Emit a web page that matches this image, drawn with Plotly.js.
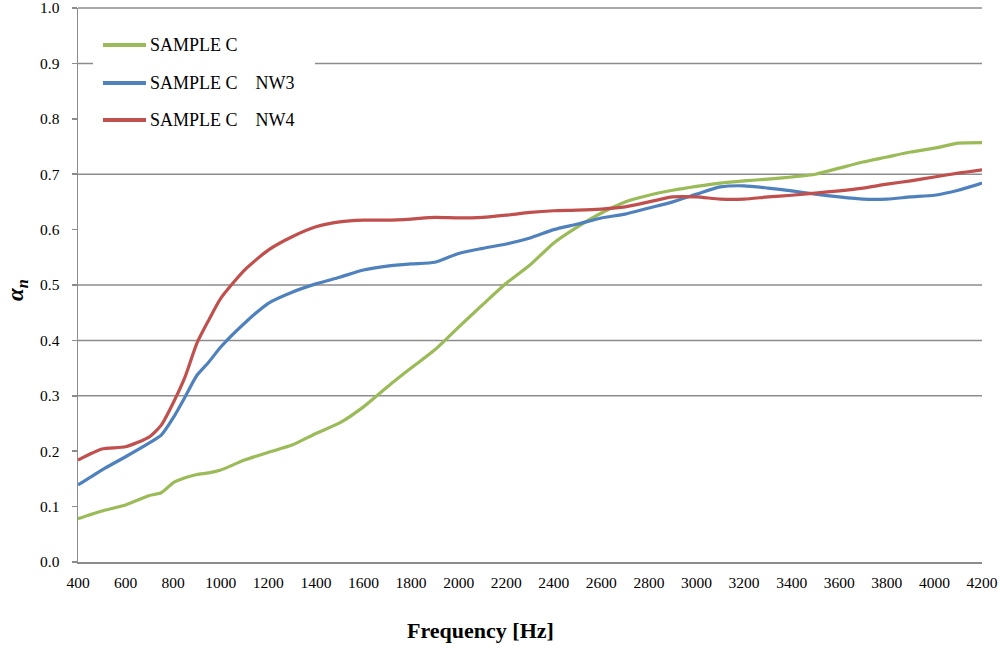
<!DOCTYPE html>
<html>
<head>
<meta charset="utf-8">
<script src="https://cdn.plot.ly/plotly-3.0.1.min.js"></script>
<style>html,body{margin:0;padding:0;background:#fff;}#chart{width:1000px;height:671px;}</style>
</head>
<body>
<div id="chart"></div>
<script>
// Frequency [Hz]
var freq = [400,500,600,700,750,800,850,900,950,1000,1100,1200,1300,1400,1500,1600,1700,1800,1900,2000,2100,2200,2300,2400,2500,2600,2700,2800,2900,3000,3100,3200,3300,3400,3500,3600,3700,3800,3900,4000,4100,4200];
var sampleC = [0.078,0.092,0.103,0.120,0.125,0.143,0.152,0.158,0.161,0.166,0.184,0.198,0.211,0.232,0.251,0.280,0.316,0.350,0.383,0.424,0.464,0.503,0.536,0.576,0.605,0.630,0.650,0.662,0.671,0.678,0.684,0.688,0.691,0.695,0.700,0.711,0.722,0.731,0.740,0.747,0.756,0.757];
var sampleCNW3 = [0.139,0.166,0.190,0.215,0.229,0.260,0.298,0.337,0.361,0.388,0.431,0.467,0.487,0.502,0.514,0.527,0.534,0.538,0.541,0.557,0.566,0.574,0.585,0.600,0.610,0.621,0.628,0.639,0.650,0.664,0.677,0.679,0.675,0.670,0.664,0.659,0.655,0.655,0.659,0.662,0.671,0.684];
var sampleCNW4 = [0.184,0.204,0.208,0.226,0.247,0.287,0.334,0.395,0.437,0.476,0.527,0.563,0.587,0.605,0.614,0.617,0.617,0.619,0.622,0.621,0.622,0.626,0.631,0.634,0.635,0.637,0.641,0.650,0.659,0.659,0.655,0.655,0.659,0.662,0.666,0.670,0.675,0.682,0.688,0.695,0.702,0.708];
var seriesNames = ["SAMPLE C", "SAMPLE C\u00a0\u00a0\u00a0\u00a0NW3", "SAMPLE C\u00a0\u00a0\u00a0\u00a0NW4"];
var seriesColors = ["#9BBB59", "#4F81BD", "#C0504D"];
var xTicks = [400,600,800,1000,1200,1400,1600,1800,2000,2200,2400,2600,2800,3000,3200,3400,3600,3800,4000,4200];
var yTicks = [0,0.1,0.2,0.3,0.4,0.5,0.6,0.7,0.8,0.9,1.0];
var gridValues = [0.3,0.4,0.5,0.7,0.9,1.0];
var yRange = [0, 1];

var allY = [sampleC, sampleCNW3, sampleCNW4];
var traces = allY.map(function(ys, i){
  return {x: freq, y: ys, type: 'scatter', mode: 'lines', name: seriesNames[i],
    line: {color: seriesColors[i], width: 3.2, shape: 'spline', smoothing: 0.6}, showlegend: false};
});

var serif = "Liberation Serif, Times New Roman, serif";
function px2x(p){ return (p-78)/904; }
function py2y(p){ return (562-p)/554; }
function val2paper(v){ return (v - yRange[0]) / (yRange[1] - yRange[0]); }
var shapes = gridValues.map(function(v){
  return {type:'line', xref:'paper', yref:'paper', x0:0, x1:1, y0:val2paper(v), y1:val2paper(v), layer:'below', line:{color:'#8c8c8c', width:1.5}};
});
shapes.push({type:'rect', xref:'paper', yref:'paper', x0:px2x(93), x1:px2x(315), y0:py2y(140), y1:py2y(25), layer:'below', fillcolor:'#fff', line:{width:0}});
var legendY = [45, 83, 120];
var annotations = [];
seriesNames.forEach(function(n, i){
  shapes.push({type:'line', xref:'paper', yref:'paper', x0:px2x(103), x1:px2x(146), y0:py2y(legendY[i]), y1:py2y(legendY[i]), line:{color:seriesColors[i], width:4}});
  annotations.push({xref:'paper', yref:'paper', x:px2x(148), y:py2y(legendY[i]), xanchor:'left', yanchor:'middle', showarrow:false, text:n, font:{family:serif, size:18, color:'#000'}});
});
annotations.push({xref:'paper', yref:'paper', x:px2x(480), y:py2y(630), xanchor:'center', yanchor:'middle', showarrow:false, text:'<b>Frequency [Hz]</b>', font:{family:serif, size:22, color:'#000'}});
annotations.push({xref:'paper', yref:'paper', x:px2x(17), y:py2y(290), xanchor:'center', yanchor:'middle', showarrow:false, textangle:-90, text:'<b><i>α<sub>n</sub></i></b>', font:{family:serif, size:23, color:'#000'}});

var layout = {
  width: 1000, height: 671,
  margin: {l:78, r:18, t:8, b:109},
  paper_bgcolor:'#fff', plot_bgcolor:'rgba(0,0,0,0)',
  showlegend:false,
  xaxis: {range:[400,4200], tickvals:xTicks, ticktext:xTicks.map(String), showgrid:false, zeroline:false,
    showline:true, linecolor:'#8c8c8c', linewidth:2, ticks:'', tickfont:{family:serif, size:15.5, color:'#000'}, ticklabelstandoff:5},
  yaxis: {range:yRange, tickvals:yTicks, ticktext:yTicks.map(function(v){return v.toFixed(1);}), showgrid:false, zeroline:false,
    showline:true, linecolor:'#8c8c8c', linewidth:1.5, ticks:'outside', ticklen:5, tickcolor:'#8c8c8c', tickwidth:1.5,
    tickfont:{family:serif, size:15.5, color:'#000'}, ticklabelstandoff:9, ticklabeloverflow:'allow'},
  shapes: shapes,
  annotations: annotations
};
Plotly.newPlot('chart', traces, layout, {displayModeBar:false, staticPlot:true});
</script>
</body>
</html>
